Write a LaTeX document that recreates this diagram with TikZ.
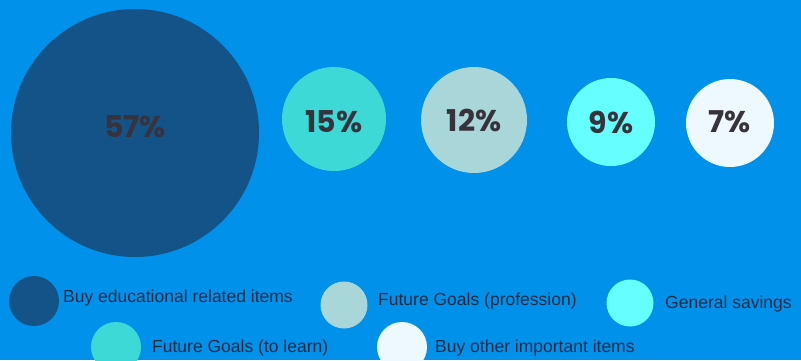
\documentclass[tikz,border=0pt]{standalone}
\usepackage{fontspec}
\setmainfont{Liberation Sans}
\newfontfamily\pctfont{Poppins}[UprightFont=* Bold]
\definecolor{bg}{HTML}{0091EA}
\definecolor{cA}{HTML}{145387}
\definecolor{cB}{HTML}{3DD9D6}
\definecolor{cC}{HTML}{A9D6D9}
\definecolor{cD}{HTML}{66FFFF}
\definecolor{cE}{HTML}{EEF8FF}
\definecolor{pct}{HTML}{36333D}
\definecolor{leg}{HTML}{1E2B45}
\tikzset{
  bubble/.style={circle, inner sep=0pt, draw=none, minimum size=#1},
  pcttext/.style={font=\pctfont\fontsize{30}{33}\selectfont, text=pct},
  legdot/.style={circle, inner sep=0pt, minimum size=#1},
  legtext/.style={font=\fontsize{17.5}{20}\selectfont, text=leg, anchor=west, inner sep=0pt}
}
\begin{document}
\begin{tikzpicture}[x=1pt,y=-1pt]
\fill[bg] (0,0) rectangle (801,360);
\useasboundingbox (0,0) rectangle (801,360);
% bubbles
\node[bubble=248pt, fill=cA] (b1) at (135,133) {};
\node[bubble=104pt, fill=cB] (b2) at (334,119) {};
\node[bubble=106pt, fill=cC] (b3) at (474,120) {};
\node[bubble=88pt, fill=cD] (b4) at (611,122) {};
\node[bubble=88pt, fill=cE] (b5) at (730,123) {};
\node[pcttext] (t1) at (135,127) {57\%};
\node[pcttext] (t2) at (334,122) {15\%};
\node[pcttext] (t3) at (474,120) {12\%};
\node[pcttext] (t4) at (611,122) {9\%};
\node[pcttext] (t5) at (730,122) {7\%};
% legend
\node[legdot=50pt, fill=cA] (l1) at (34,301) {};
\node[legtext] (lt1) at (63,298) {Buy educational related items};
\node[legdot=47pt, fill=cC] (l3) at (344,305) {};
\node[legtext] (lt3) at (378,301) {Future Goals (profession)};
\node[legdot=47pt, fill=cD] (l4) at (630,303) {};
\node[legtext] (lt4) at (665,304) {General savings};
\node[legdot=50pt, fill=cB] (l2) at (116,347) {};
\node[legtext] (lt2) at (152,348) {Future Goals (to learn)};
\node[legdot=50pt, fill=cE] (l5) at (402,347) {};
\node[legtext] (lt5) at (435,348) {Buy other important items};
\end{tikzpicture}
\end{document}
